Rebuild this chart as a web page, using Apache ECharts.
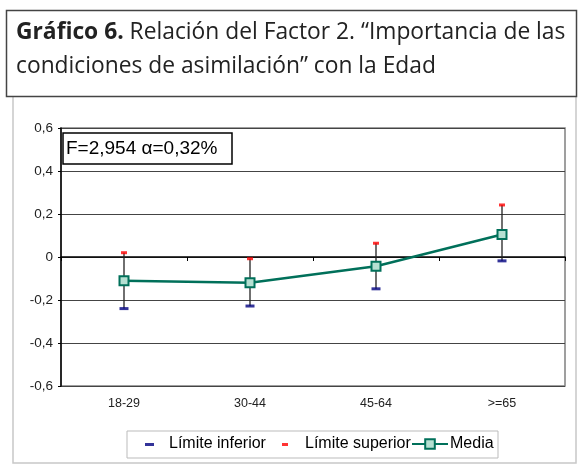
<!DOCTYPE html>
<html>
<head>
<meta charset="utf-8">
<script src="https://cdn.jsdelivr.net/npm/echarts@6/dist/echarts.min.js"></script>
<style>html,body{margin:0;padding:0;background:#fff;}#c{width:580px;height:473px;}</style>
</head>
<body>
<div id="c"></div>
<script>
var categories = ['18-29', '30-44', '45-64', '>=65'];
var media = [-0.11, -0.12, -0.043, 0.105];
var limiteInferior = [-0.24, -0.228, -0.148, -0.018];
var limiteSuperior = [0.02, -0.008, 0.064, 0.242];
var yTickValues = [-0.6, -0.4, -0.2, 0, 0.2, 0.4, 0.6];
var yTickLabels = ['-0,6', '-0,4', '-0,2', '0', '0,2', '0,4', '0,6'];
var annotationText = 'F=2,954 \u03b1=0,32%';

var chart = echarts.init(document.getElementById('c'), null, {renderer: 'canvas'});
var dashIconNavy = 'path://M0,0 M28,12 M9,5 H18 V8 H9 Z';
var dashIconRed = 'path://M0,0 M28,12 M10,5 H16 V8 H10 Z';
var legendText = {fontFamily: 'Liberation Sans', fontSize: 16, color: '#000'};

var option = {
  backgroundColor: '#fff',
  animation: false,
  title: [{
    left: 16, top: 16, padding: 0,
    text: '{b|Gráfico 6.}{r| Relación del Factor 2. “Importancia de las}\n{r|condiciones de asimilación” con la Edad}',
    textStyle: {
      rich: {
        b: {fontFamily: 'Open Sans', fontWeight: 'bold', fontSize: 22.8, color: '#222', lineHeight: 33.5},
        r: {fontFamily: 'Open Sans', fontWeight: 'normal', fontSize: 22.8, color: '#222', lineHeight: 33.5}
      }
    }
  }],
  graphic: [
    {type: 'rect', shape: {x: 13, y: 96, width: 563, height: 367}, style: {fill: 'none', stroke: '#c8c8c8', lineWidth: 1.5}, z: -1},
    {type: 'rect', shape: {x: 6.5, y: 10.5, width: 570, height: 86}, style: {fill: '#fff', stroke: '#444', lineWidth: 1.5}, z: 0},
    {type: 'rect', shape: {x: 63, y: 133, width: 169, height: 31}, style: {fill: '#fff', stroke: '#000', lineWidth: 1.5}, z: 10},
    {type: 'text', x: 66, y: 149, style: {text: annotationText, font: '19px "Liberation Sans", Arial', fill: '#000', verticalAlign: 'middle'}, z: 11},
    {type: 'rect', shape: {x: 127, y: 431, width: 371, height: 27}, style: {fill: '#fff', stroke: '#bbb', lineWidth: 1}, z: 0}
  ],
  grid: {left: 61, right: 15, top: 128, bottom: 87, show: true, borderColor: '#808080', borderWidth: 1.5, backgroundColor: '#fff'},
  legend: [
    {left: 136, top: 436, padding: 0, itemWidth: 28, itemHeight: 12, itemGap: 0, data: [{name: 'Límite inferior', icon: dashIconNavy}], textStyle: legendText},
    {left: 272, top: 436, padding: 0, itemWidth: 28, itemHeight: 12, itemGap: 0, data: [{name: 'Límite superior', icon: dashIconRed}], textStyle: legendText},
    {left: 411, top: 436, padding: 0, itemWidth: 36, itemHeight: 12, itemGap: 0, data: ['Media'], textStyle: {fontFamily: 'Liberation Sans', fontSize: 16, color: '#000', padding: [0, 0, 0, -3]}}
  ],
  xAxis: {
    type: 'category', data: categories, boundaryGap: true,
    axisLine: {lineStyle: {color: '#000', width: 1.5}},
    axisTick: {show: true, length: 4, inside: false, lineStyle: {color: '#000', width: 1}},
    axisLabel: {fontFamily: 'Liberation Sans', fontSize: 12.5, color: '#222', margin: 11},
    splitLine: {show: false}
  },
  yAxis: {
    type: 'value', min: -0.6, max: 0.6, interval: 0.2,
    axisLine: {show: true, lineStyle: {color: '#000', width: 1.5}},
    axisTick: {show: true, length: 3, lineStyle: {color: '#000'}},
    axisLabel: {
      fontFamily: 'Liberation Sans', fontSize: 13.5, color: '#222', margin: 8,
      formatter: function (v) {
        for (var i = 0; i < yTickValues.length; i++) {
          if (Math.abs(yTickValues[i] - v) < 1e-9) return yTickLabels[i];
        }
        return '';
      }
    },
    splitLine: {show: true, lineStyle: {color: '#444', width: 1}}
  },
  series: [
    {
      name: 'errorbars', type: 'custom', silent: true, z: 1,
      data: categories.map(function (c, i) { return [i, limiteInferior[i], limiteSuperior[i]]; }),
      encode: {x: 0, y: [1, 2]},
      renderItem: function (params, api) {
        var lo = api.coord([api.value(0), api.value(1)]);
        var hi = api.coord([api.value(0), api.value(2)]);
        return {type: 'line', shape: {x1: lo[0], y1: lo[1], x2: hi[0], y2: hi[1]}, style: {stroke: '#222', lineWidth: 1.3}};
      }
    },
    {
      name: 'Límite inferior', type: 'scatter', z: 3, symbol: 'rect', symbolSize: [9, 3],
      itemStyle: {color: '#000080'}, data: limiteInferior
    },
    {
      name: 'Límite superior', type: 'scatter', z: 3, symbol: 'rect', symbolSize: [6, 3],
      itemStyle: {color: '#ff0000'}, data: limiteSuperior
    },
    {
      name: 'Media', type: 'line', z: 4, data: media,
      symbol: 'rect', symbolSize: 9, showSymbol: true,
      lineStyle: {color: '#00705a', width: 2.5},
      itemStyle: {color: '#b5e0d2', borderColor: '#00705a', borderWidth: 2}
    }
  ]
};
chart.setOption(option);
</script>
</body>
</html>
